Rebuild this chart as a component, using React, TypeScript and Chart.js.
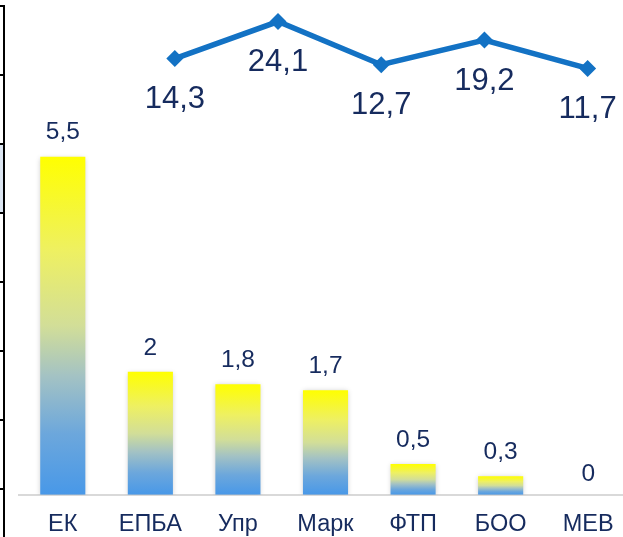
import React, { useEffect, useRef } from "react";
import { Chart, registerables } from "chart.js";

Chart.register(...registerables);

const categories = ["ЕК", "ЕПБА", "Упр", "Марк", "ФТП", "БОО", "МЕВ"];
const barValues = [5.5, 2, 1.8, 1.7, 0.5, 0.3, 0];
const linePositions = [0, 1, 2, 3, 4];
const lineValues = [14.3, 24.1, 12.7, 19.2, 11.7];
const stripLines = [0, 1, 2, 3, 4, 5, 6, 7];

const FONT = "'Liberation Sans', Arial, sans-serif";
const TEXT = "#162B5E";
const LINE = "#1372C4";

const fmt = (v: number) => String(v).replace(".", ",");

export default function App() {
  const ref = useRef<HTMLCanvasElement | null>(null);

  useEffect(() => {
    const canvas = ref.current;
    if (!canvas) return;

    const labelPlugin = {
      id: "valueLabels",
      beforeDatasetDraw(chart: any, args: any) {
        if (args.index === 0) {
          const c = chart.ctx;
          c.save();
          c.shadowColor = "rgba(0,0,0,0.22)";
          c.shadowBlur = 5;
          c.shadowOffsetX = 0;
          c.shadowOffsetY = 1;
        }
      },
      afterDatasetDraw(chart: any, args: any) {
        if (args.index === 0) chart.ctx.restore();
      },
      afterDatasetsDraw(chart: any) {
        const c = chart.ctx;
        c.save();
        c.fillStyle = TEXT;
        c.textAlign = "center";
        c.textBaseline = "middle";
        c.font = `24.5px ${FONT}`;
        chart.getDatasetMeta(0).data.forEach((el: any, i: number) => {
          const v = barValues[i];
          c.fillText(fmt(v), el.x, el.y - (v === 0 ? 21 : 24));
        });
        c.font = `31px ${FONT}`;
        chart.getDatasetMeta(1).data.forEach((el: any, i: number) => {
          c.fillText(fmt(lineValues[i]), el.x, el.y + 41);
        });
        c.restore();
      },
    };

    const chart = new Chart(canvas, {
      type: "bar",
      data: {
        labels: categories,
        datasets: [
          {
            type: "bar",
            data: barValues,
            xAxisID: "x",
            yAxisID: "y",
            grouped: false,
            barPercentage: 0.515,
            categoryPercentage: 1,
            borderWidth: 0,
            backgroundColor: (ctx: any) => {
              const ch = ctx.chart;
              if (!ch.chartArea || !ch.scales.y) return "#FFFF00";
              const v = barValues[ctx.dataIndex] ?? 0;
              const ys = ch.scales.y;
              const top = ys.getPixelForValue(v);
              const base = ys.getPixelForValue(0);
              if (Math.abs(base - top) < 1) return "#4A9AE8";
              const g = ch.ctx.createLinearGradient(0, top, 0, base);
              g.addColorStop(0, "#FFFF00");
              g.addColorStop(0.28, "#EEF062");
              g.addColorStop(0.5, "#D2DE98");
              g.addColorStop(0.65, "#A3C2C4");
              g.addColorStop(0.82, "#6CA7DC");
              g.addColorStop(1, "#4898E8");
              return g;
            },
          } as any,
          {
            type: "line",
            data: linePositions.map((x, i) => ({ x, y: lineValues[i] })),
            xAxisID: "x2",
            yAxisID: "y2",
            borderColor: LINE,
            borderWidth: 5.5,
            backgroundColor: LINE,
            pointStyle: "rectRot",
            pointRadius: 8.5,
            pointBackgroundColor: LINE,
            pointBorderWidth: 0,
            tension: 0,
          } as any,
        ],
      },
      options: {
        responsive: false,
        animation: false,
        devicePixelRatio: 1,
        layout: { autoPadding: false, padding: { left: 19, right: 0, top: 3, bottom: 0 } },
        plugins: { legend: { display: false }, tooltip: { enabled: false } },
        scales: {
          x: {
            type: "category",
            offset: true,
            grid: { display: false, drawTicks: false },
            border: { display: true, color: "#D9D9D9", width: 2 },
            ticks: { color: TEXT, font: { family: FONT, size: 23.5 }, padding: 16, maxRotation: 0 },
          },
          y: { display: false, min: 0, max: 8 },
          x2: { type: "linear", display: false, offset: false, bounds: "data", min: -1.51, max: 4.43 },
          y2: { type: "linear", display: false, offset: false, bounds: "data", min: -101, max: 29 },
        },
      } as any,
      plugins: [labelPlugin],
    });

    return () => chart.destroy();
  }, []);

  return (
    <div
      style={{
        position: "fixed",
        left: 0,
        top: 0,
        width: 623,
        height: 537,
        overflow: "hidden",
        background: "#ffffff",
      }}
    >
      <canvas
        ref={ref}
        width={632}
        height={555}
        style={{ position: "absolute", left: 0, top: 0 }}
      />
      <div
        style={{
          position: "absolute",
          left: 0,
          top: 144,
          width: 3,
          height: 69,
          background: "#DCE6F2",
        }}
      />
      <div
        style={{
          position: "absolute",
          left: 3,
          top: 5,
          width: 2,
          height: 532,
          background: "#000",
        }}
      />
      {stripLines.map((i) => (
        <div
          key={i}
          style={{
            position: "absolute",
            left: 0,
            top: 5 + i * 69,
            width: 5,
            height: 2,
            background: "#000",
          }}
        />
      ))}
    </div>
  );
}
